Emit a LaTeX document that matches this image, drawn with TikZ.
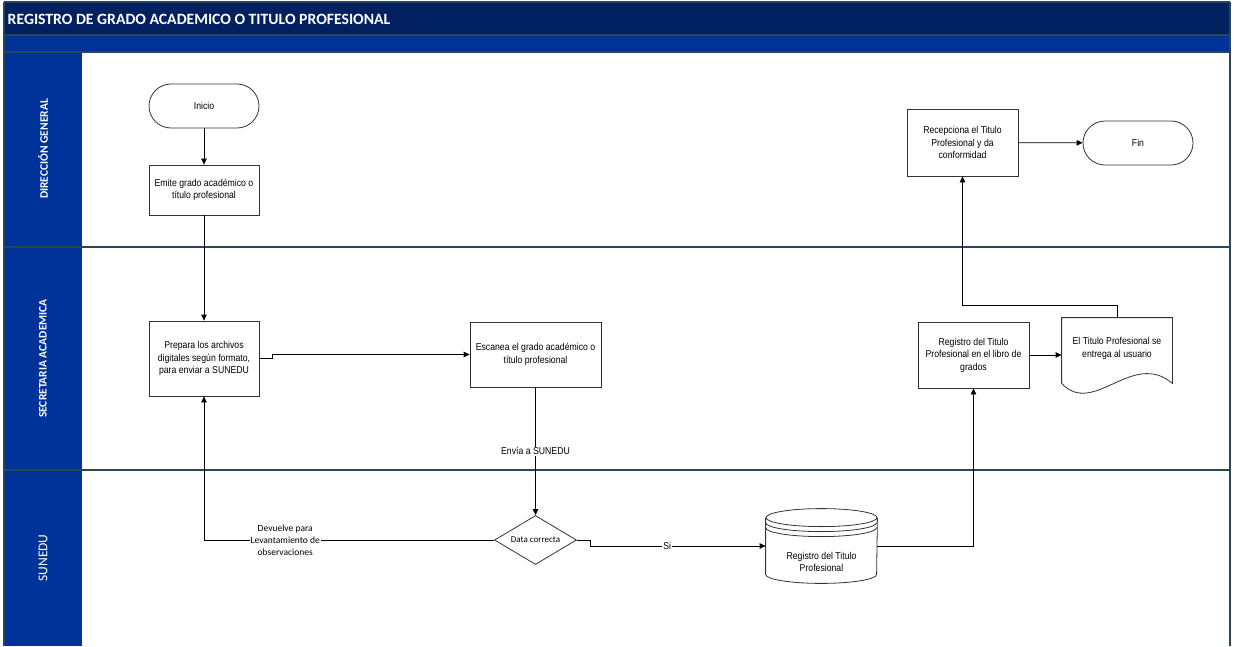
\documentclass[tikz,border=0pt]{standalone}
\usepackage{fontspec}
\setmainfont{Liberation Sans}
\newfontfamily\narrowfont[FakeStretch=0.87]{Liberation Sans}
\newfontfamily\calfont{Carlito}
\usetikzlibrary{arrows.meta,shapes.geometric,calc}
\definecolor{navyband}{RGB}{0,32,96}
\definecolor{blueband}{RGB}{0,51,153}
\definecolor{laneline}{RGB}{40,70,85}

\begin{document}
\begin{tikzpicture}[x=1pt, y=-1pt, >={Triangle[length=6pt,width=5.5pt]}, line width=0.8pt,
		proceso/.style={draw=black!80, fill=white, minimum width=110pt, align=center, inner sep=2pt, font=\narrowfont\fontsize{10}{12.5}\selectfont},
		terminal/.style={proceso, rounded corners=22pt, minimum height=44pt},
		decision/.style={draw=black!80, fill=white, diamond, aspect=1.67, minimum width=82pt, minimum height=49pt, inner sep=0pt, font=\calfont\fontsize{9}{11}\selectfont},
		etiqueta/.style={fill=white, inner sep=1pt, font=\narrowfont\fontsize{10}{12}\selectfont},
		carril/.style={text=white, rotate=90, font=\calfont\bfseries\fontsize{11.5}{14}\selectfont}]
	\useasboundingbox (0,0) rectangle (1234,646);
	
	% 标题栏与泳道底色
	\fill[navyband] (4,2) rectangle (1230,35);
	\fill[blueband] (4,35) rectangle (1230,52);
	\fill[blueband] (4,52) rectangle (82,646);
	\draw[laneline, line width=1.2pt] (4,2) -- (1230,2) (4,35) -- (1230,35) (4,52) -- (1230,52)
		(4,247) -- (1230,247) (4,470) -- (1230,470) (4,2) -- (4,646) (1230,2) -- (1230,646);
	\node[anchor=west, text=white, font=\calfont\bfseries\fontsize{15.7}{18}\selectfont] (titulo) at (4,19) {REGISTRO DE GRADO ACADEMICO O TITULO PROFESIONAL};
	
	% 泳道名称
	\node[carril] (dg) at (43,149) {DIRECCIÓN GENERAL};
	\node[carril] (sa) at (43,358.5) {SECRETARIA ACADEMICA};
	\node[carril, font=\calfont\fontsize{13.5}{16}\selectfont] (su) at (43,558) {SUNEDU};
	
	% 流程节点
	\node[terminal] (inicio) at (204,106) {Inicio};
	\node[proceso, minimum height=50pt] (emite) at (204,190) {Emite grado académico o\\título profesional};
	\node[proceso, minimum height=75pt] (prepara) at (204,358.5) {Prepara los archivos\\digitales según formato,\\para enviar a SUNEDU};
	\node[proceso, minimum width=131pt, minimum height=65pt] (escanea) at (535.5,354.5) {Escanea el grado académico o\\título profesional};
	\node[decision] (data) at (535.5,540) {Data correcta};
	\node[minimum width=111pt, minimum height=74pt, inner sep=0pt] (db) at (821.5,546) {};
	\node[etiqueta, fill=none, align=center] (dbtxt) at ([yshift=-16pt]db.center) {Registro del Titulo\\Profesional};
	\node[proceso, minimum width=111pt, minimum height=66pt] (registro) at (973.5,355) {Registro del Titulo\\Profesional en el libro de\\grados};
	\node[proceso, draw=none, fill=none, minimum height=65pt] (doc) at (1117,350.5) {El Titulo Profesional se\\entrega al usuario\\[-6pt]\mbox{}};
	\node[proceso, minimum width=111pt, minimum height=67pt] (recep) at (962.5,142.5) {Recepciona el Titulo\\Profesional y da\\conformidad};
	\node[terminal] (fin) at (1138,143) {Fin};
	
	% 数据库（圆柱）与文档形状
	\draw[black!80] ([yshift=-9pt]db.north) ellipse [x radius=55.5pt, y radius=9pt];
	\draw[black!80] ([yshift=-14pt]db.north west) arc [start angle=180, end angle=360, x radius=55.5pt, y radius=9pt];
	\draw[black!80] ([yshift=-19pt]db.north west) arc [start angle=180, end angle=360, x radius=55.5pt, y radius=9pt];
	\draw[black!80] ([yshift=-9pt]db.north west) -- ([yshift=9pt]db.south west)
		arc [start angle=180, end angle=360, x radius=55.5pt, y radius=9pt] -- ([yshift=-9pt]db.north east);
	\draw[black!80] (doc.south west) -- (doc.north west) -- (doc.north east) -- (doc.south east)
		.. controls ($(doc.south east)+(-40,-34)$) and ($(doc.south west)+(32,34)$) .. (doc.south west);
	
	% 连接线
	\draw[->] (inicio) -- (emite);
	\draw[->] (emite) -- (prepara);
	\draw[->] (prepara.east) -- ++(13,0) |- (escanea.west);
	\draw[->] (escanea.south) -- node[etiqueta] (envia) {Envía a SUNEDU} (data.north);
	\draw[->] (data.west) -| node[pos=0.36, etiqueta, align=center, font=\calfont\fontsize{9.5}{12}\selectfont] (devuelve) {Devuelve para\\Levantamiento de\\observaciones} (prepara.south);
	\draw[->] (data.east) -- ++(13,0) |- node[pos=0.72, etiqueta] (si) {Si} (db.west);
	\draw[->] (db.east) -| (registro.south);
	\draw[->] (registro.east) -- (registro.east -| doc.west);
	\draw[->] (doc.north) -- ++(0,-12) -| (recep.south);
	\draw[->] (recep) -- (fin);
\end{tikzpicture}
\end{document}
